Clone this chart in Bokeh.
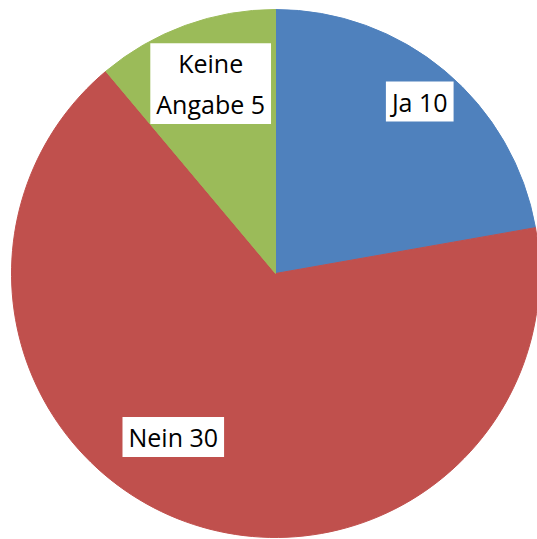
import numpy as np
from bokeh.plotting import figure
from bokeh.models import Label
from bokeh.embed import file_html
from bokeh.resources import INLINE

# Data
categories = ["Ja", "Nein", "Keine\nAngabe"]
values = [10, 30, 5]
colors = ["#4F81BD", "#C0504D", "#9BBB59"]

# Layout / style (pixel-mapped data space)
W, H = 537, 539
cx, cy, R = 275, 266, 264
label_angle_shift = [0.0, -0.21, -0.02]   # radians, label placement tweak
label_radius_frac = [0.85, 0.73, 0.76]

p = figure(width=W, height=H, x_range=(0, W), y_range=(0, H),
           output_backend="svg", toolbar_location=None, min_border=0)
p.axis.visible = False
p.grid.visible = False
p.outline_line_color = None
p.background_fill_color = "white"

vals = np.array(values, dtype=float)
total = vals.sum()
cum = np.concatenate([[0], np.cumsum(vals)])
starts = np.pi / 2 - 2 * np.pi * cum[:-1] / total
ends = np.pi / 2 - 2 * np.pi * cum[1:] / total

p.wedge(x=[cx] * len(vals), y=[cy] * len(vals), radius=R,
        start_angle=list(starts), end_angle=list(ends), direction="clock",
        fill_color=colors, line_color=colors, line_width=1)

for i, (cat, v) in enumerate(zip(categories, values)):
    mid = (starts[i] + ends[i]) / 2 + label_angle_shift[i]
    r = R * label_radius_frac[i]
    lx = cx + r * np.cos(mid)
    ly = cy + r * np.sin(mid)
    lab = Label(x=lx, y=ly, text=f"{cat} {v}", text_align="center",
                text_baseline="middle", text_font="Open Sans",
                text_font_size="25px", text_color="#000000",
                text_line_height=1.2,
                background_fill_color="white", padding=(6, 3))
    p.add_layout(lab)

open("out.html", "w").write(file_html(p, INLINE))
